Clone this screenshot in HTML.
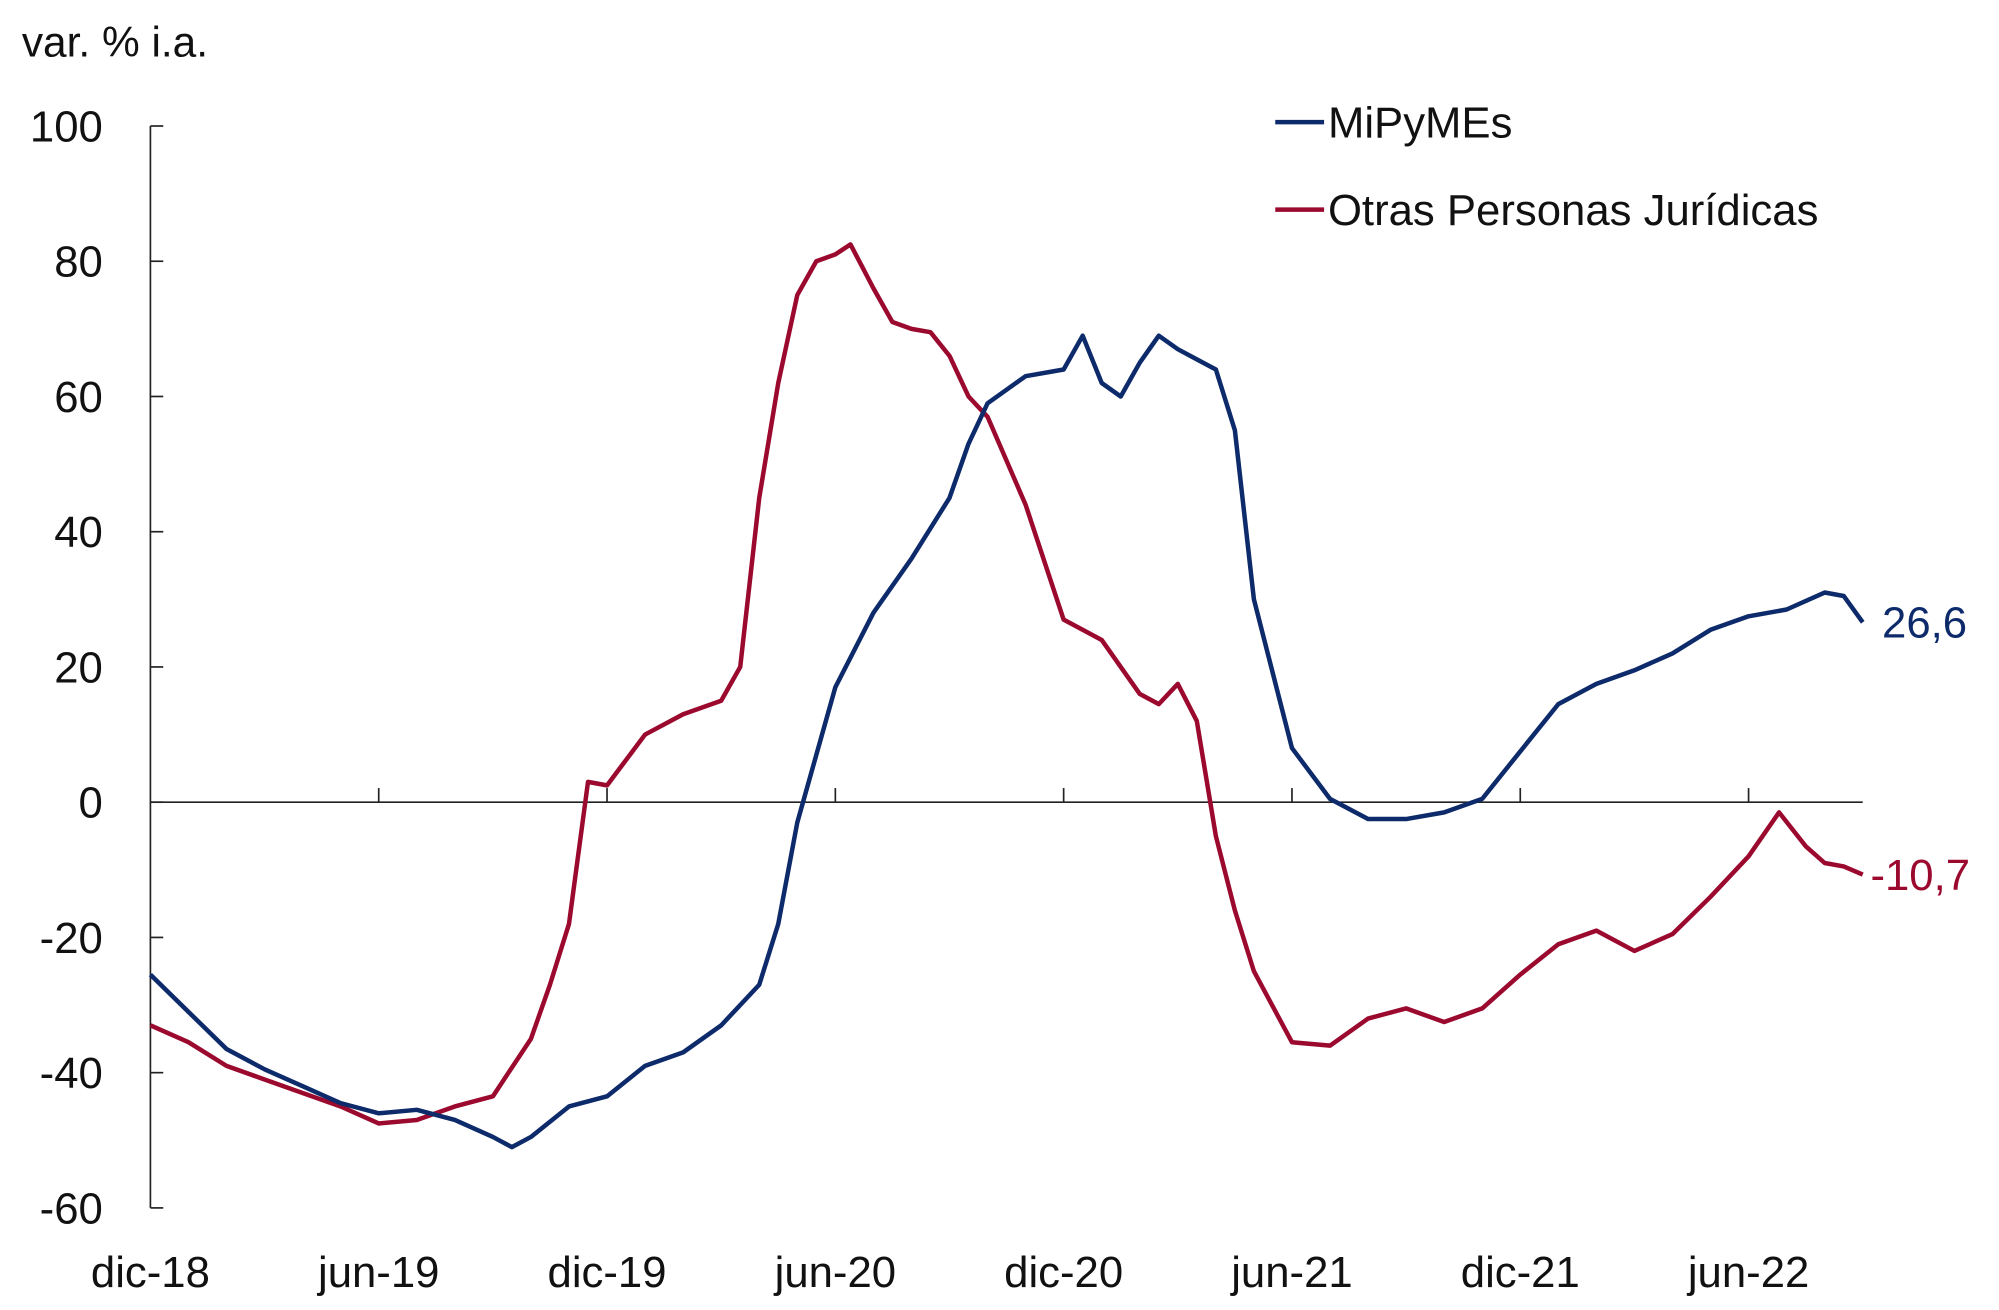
<!DOCTYPE html>
<html><head><meta charset="utf-8"><style>
html,body{margin:0;padding:0;background:#fff}
svg{display:block}
text{font-family:"Liberation Sans",sans-serif;fill:#111}
</style></head><body>
<svg id="chart" width="1999" height="1310" viewBox="0 0 1555 1019" xmlns="http://www.w3.org/2000/svg">
<text x="17" y="44" font-size="33">var. % i.a.</text>
<g id="axes"></g>
<g id="series"></g>
<g>
<line x1="992" y1="95" x2="1030" y2="95" stroke="#0d2a6b" stroke-width="3.5"/>
<text x="1033" y="107" font-size="34">MiPyMEs</text>
<line x1="992" y1="163" x2="1030" y2="163" stroke="#9b0a2e" stroke-width="3.5"/>
<text x="1033" y="175" font-size="34">Otras Personas Jurídicas</text>
</g>
</svg>
<script>
const yTicks=[100,80,60,40,20,0,-20,-40,-60];
const xTickMonths=[0,6,12,18,24,30,36,42];
const xTickLabels=["dic-18","jun-19","dic-19","jun-20","dic-20","jun-21","dic-21","jun-22"];
const mipyMonths=[0,1,2,3,4,5,6,7,8,9,9.5,10,11,12,13,14,15,16,16.5,17,18,19,20,21,21.5,22,23,24,24.5,25,25.5,26,26.5,27,27.5,28,28.5,29,30,31,32,33,34,35,36,37,38,39,40,41,42,43,44,44.5,45];
const mipyValues=[-25.5,-31,-36.5,-39.5,-42,-44.5,-46,-45.5,-47,-49.5,-51,-49.5,-45,-43.5,-39,-37,-33,-27,-18,-3,17,28,36,45,53,59,63,64,69,62,60,65,69,67,65.5,64,55,30,8,0.5,-2.5,-2.5,-1.5,0.5,7.5,14.5,17.5,19.5,22,25.5,27.5,28.5,31,30.5,26.6];
const otrasMonths=[0,1,2,3,4,5,6,7,8,9,10,10.5,11,11.5,12,13,14,15,15.5,16,16.5,17,17.5,18,18.4,19,19.5,20,20.5,21,21.5,22,23,24,25,26,26.5,27,27.5,28,28.5,29,30,31,32,33,34,35,36,37,38,39,40,41,42,42.8,43.5,44,44.5,45];
const otrasValues=[-33,-35.5,-39,-41,-43,-45,-47.5,-47,-45,-43.5,-35,-27,-18,3,2.5,10,13,15,20,45,62,75,80,81,82.5,76,71,70,69.5,66,60,57,44,27,24,16,14.5,17.5,12,-5,-16,-25,-35.5,-36,-32,-30.5,-32.5,-30.5,-25.5,-21,-19,-22,-19.5,-14,-8,-1.5,-6.5,-9,-9.5,-10.7];
const X0=117,MW=29.6,Y0=624,YU=5.26;
const xs=m=>X0+m*MW, ys=v=>Y0-v*YU;
const NS="http://www.w3.org/2000/svg";
const axes=document.getElementById('axes'),series=document.getElementById('series');
function mk(tag,attrs,parent){const e=document.createElementNS(NS,tag);for(const k in attrs)e.setAttribute(k,attrs[k]);parent.appendChild(e);return e;}
const ya=mk('line',{x1:X0,y1:ys(100),x2:X0,y2:ys(-60),stroke:'#222','stroke-width':1.3},axes);


const xa=mk('line',{x1:X0,y1:Y0,x2:xs(45),y2:Y0,stroke:'#222','stroke-width':1.3},axes);


yTicks.forEach(v=>{
 const t=mk('line',{x1:X0,y1:ys(v),x2:X0+10,y2:ys(v),stroke:'#222','stroke-width':1.3},axes);
 
 
 const l=mk('text',{x:80,y:ys(v)+12,'font-size':34,'text-anchor':'end'},axes);l.textContent=v;
 
 
});
xTickMonths.forEach((m,i)=>{
 if(m>0){const t=mk('line',{x1:xs(m),y1:Y0,x2:xs(m),y2:Y0-11,stroke:'#222','stroke-width':1.3},axes);
 
 }
 const l=mk('text',{x:xs(m),y:1001,'font-size':34,'text-anchor':'middle'},axes);l.textContent=xTickLabels[i];
 
 
});
function line(ms,vs,color,name){
 const d=ms.map((m,i)=>(i?'L':'M')+xs(m).toFixed(1)+' '+ys(vs[i]).toFixed(1)).join(' ');
 const p=mk('path',{d:d,fill:'none',stroke:color,'stroke-width':3.5,'stroke-linejoin':'round'},series);
 
 
}
line(otrasMonths,otrasValues,'#9b0a2e','series-otras-personas-juridicas');
line(mipyMonths,mipyValues,'#0d2a6b','series-mipymes');
const e1=mk('text',{x:1464,y:ys(mipyValues[mipyValues.length-1])+12,'font-size':34,style:'fill:#0d2a6b'},series);
e1.textContent=mipyValues[mipyValues.length-1].toFixed(1).replace('.',',');


const e2=mk('text',{x:1455,y:ys(otrasValues[otrasValues.length-1])+12,'font-size':34,style:'fill:#9b0a2e'},series);
e2.textContent=otrasValues[otrasValues.length-1].toFixed(1).replace('.',',');


</script>
</body></html>
